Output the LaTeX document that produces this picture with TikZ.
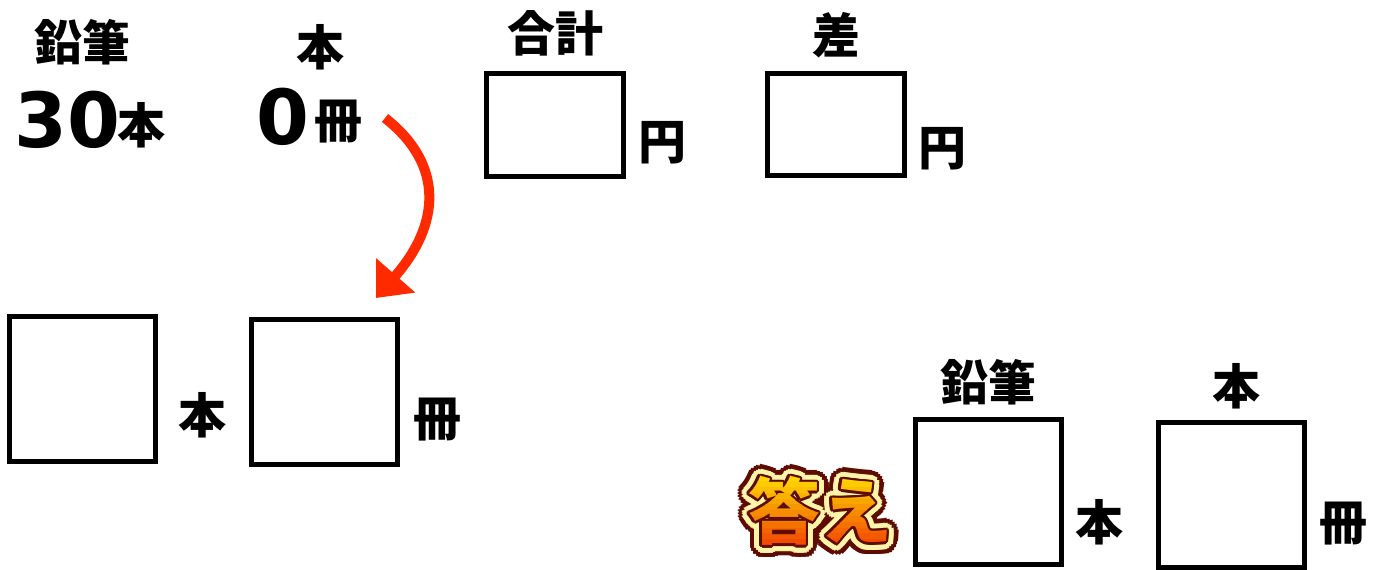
\documentclass[tikz,border=0pt]{standalone}
\usepackage{fontspec}
\usetikzlibrary{calc}
\usetikzlibrary{arrows,arrows.meta}
\usetikzlibrary{positioning}
\tikzset{>=latex}
\newfontfamily\cjk{Noto Sans CJK JP}
\newfontfamily\numfont{DejaVu Sans}
\definecolor{Acol}{RGB}{255,42,0}
\definecolor{Kdark}{RGB}{95,12,0}
\definecolor{Kpale}{RGB}{255,245,170}
\definecolor{Ktop}{RGB}{255,228,0}
\definecolor{Kbot}{RGB}{238,38,0}
\newcommand\lblfont{\cjk\bfseries\fontsize{48}{48}\selectfont}
\newcommand\kotaefont{\cjk\bfseries\fontsize{72}{72}\selectfont}
\tikzset{
  ansbox/.style={draw,line width=5pt,minimum width=146pt,minimum height=145pt,inner sep=0},
  lbl/.style={font=\lblfont,inner sep=0},
  big/.style={font=\numfont\bfseries\fontsize{76}{76}\selectfont,inner sep=0},
  kotae/.style={font=\kotaefont,inner sep=0},
}

\begin{document}
\begin{tikzpicture}[x=1pt,y=-1pt]
  \useasboundingbox (0,0) rectangle (1381,570);
  
  % given numbers
  \node[lbl] (penT) at (82,42) {鉛筆};
  \node[lbl] (bookT) at (320,47) {本};
  \node[big] (pen30) at (67,120) {30};
  \node[lbl] (penU) at (141,125) {本};
  \node[big] (book0) at (283,117) {0};
  \node[lbl] (bookU) at (338,122) {冊};
  
  % total and difference
  \node[ansbox,minimum width=137pt,minimum height=103pt] (sum) at (555,125) {};
  \node[lbl,above=15pt of sum] (sumT) {合計};
  \node[lbl] (sumU) at (662,143) {円};
  \node[ansbox,minimum width=137pt,minimum height=102pt] (diff) at (836,124.5) {};
  \node[lbl,above=13pt of diff] (diffT) {差};
  \node[lbl] (diffU) at (942,149) {円};
  
  % work boxes
  \node[ansbox] (penW) at (82.5,389) {};
  \node[lbl] (penWU) at (202,415) {本};
  \node[ansbox] (bookW) at (324.5,392) {};
  \node[lbl] (bookWU) at (437,420) {冊};
  
  \coordinate (arrS) at (385,118);
  \coordinate (arrE) at (376,298);
  \draw[Acol,line width=10pt,-{Triangle[length=30pt,width=50pt]}]
    (arrS) .. controls (445,165) and (440,225) .. (arrE);
  
  % answer
  \node[ansbox] (penA) at (988.5,492) {};
  \node[lbl,above=12pt of penA] (penAT) {鉛筆};
  \node[lbl] (penAU) at (1099,522) {本};
  \node[ansbox] (bookA) at (1231,495) {};
  \node[lbl,above=11pt of bookA,xshift=5pt] (bookAT) {本};
  \node[lbl] (bookAU) at (1343,524) {冊};
  
  \coordinate (kotae) at (820,511);
  \foreach \a in {0,15,...,345}
    \node[kotae,text=Kdark] at ($(kotae)+(\a:12)$) {答え};
  \foreach \a in {0,20,...,340}
    \node[kotae,text=Kpale] at ($(kotae)+(\a:7.5)$) {答え};
  \foreach \a in {0,30,...,330}
    \node[kotae,text=Kdark] at ($(kotae)+(\a:2.5)$) {答え};
  \foreach \i [evaluate={\p=100*\i/15; \y=470+\i*5.8;}] in {0,...,15}{
    \begin{scope}
      \clip (735,\y) rectangle (905,\y+5.9);
      \node[kotae,text=Kbot!\p!Ktop] (kotaeT) at (kotae) {答え};
    \end{scope}
  }
  
\end{tikzpicture}
\end{document}
